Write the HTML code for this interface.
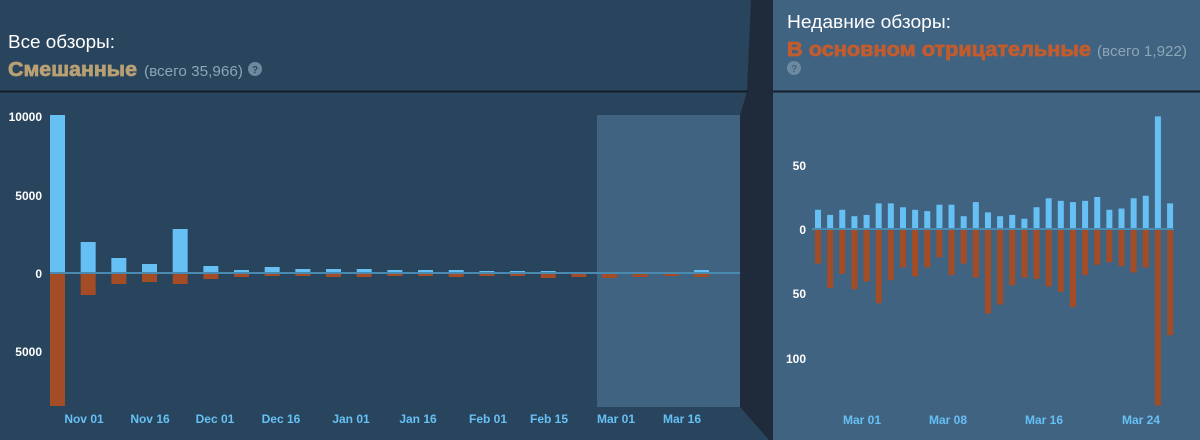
<!DOCTYPE html>
<html><head><meta charset="utf-8"><style>
html,body{margin:0;padding:0;width:1200px;height:440px;overflow:hidden;background:#2a475e;}
svg{display:block}
text{font-family:"Liberation Sans",Arial,sans-serif}
</style></head><body>
<svg id="s" width="1200" height="440" xmlns="http://www.w3.org/2000/svg">
<rect x="0" y="0" width="1200" height="440" fill="#28455d"/>
<rect x="773" y="0" width="427" height="440" fill="#416382"/>
<rect x="597" y="115" width="143" height="292" fill="#3f6380"/>
<polygon points="751,0 773,0 773,440 769,440 740,407 740,115 747,92" fill="#1f2b3b"/>
<line x1="0" y1="91.5" x2="748" y2="91.5" stroke="#141e2a" stroke-width="2"/>
<line x1="773" y1="91.5" x2="1200" y2="91.5" stroke="#141e2a" stroke-width="2"/>
<text x="8" y="48" font-size="18.5" fill="#ffffff" textLength="107" lengthAdjust="spacingAndGlyphs">Все обзоры:</text>
<text x="8" y="76" font-size="20" font-weight="bold" fill="#b9a074" stroke="#b9a074" stroke-width="0.7" textLength="129" lengthAdjust="spacingAndGlyphs">Смешанные</text>
<text x="144" y="76" font-size="15" fill="#8ba6b6" textLength="99" lengthAdjust="spacingAndGlyphs">(всего 35,966)</text>
<circle cx="255" cy="69" r="7" fill="#6b8aa0"/><text x="255" y="73" font-size="10" font-weight="bold" fill="#2a475e" text-anchor="middle">?</text>
<text x="787" y="28" font-size="18.5" fill="#ffffff" textLength="164" lengthAdjust="spacingAndGlyphs">Недавние обзоры:</text>
<text x="787" y="56" font-size="20" font-weight="bold" fill="#c35c2c" stroke="#c35c2c" stroke-width="0.7" textLength="304" lengthAdjust="spacingAndGlyphs">В основном отрицательные</text>
<text x="1097" y="56" font-size="15" fill="#8ba6b6" textLength="90" lengthAdjust="spacingAndGlyphs">(всего 1,922)</text>
<circle cx="794" cy="68" r="7" fill="#6b8aa0"/><text x="794" y="72" font-size="10" font-weight="bold" fill="#416382" text-anchor="middle">?</text>
<g font-size="12" font-weight="bold" fill="#ffffff" text-anchor="end">
<text x="42" y="121">10000</text><text x="42" y="200">5000</text><text x="42" y="278">0</text><text x="42" y="356">5000</text>
<text x="806" y="170">50</text><text x="806" y="234">0</text><text x="806" y="298">50</text><text x="806" y="363">100</text>
</g>
<g font-size="12" font-weight="bold" fill="#66c0f4" text-anchor="middle" id="xl"></g>
<g id="bars"></g>
</svg>
<script>
var ns="http://www.w3.org/2000/svg",b=document.getElementById('bars'),xl=document.getElementById('xl');
function r(x,y,w,h,c){var e=document.createElementNS(ns,'rect');e.setAttribute('x',x);e.setAttribute('y',y);e.setAttribute('width',w);e.setAttribute('height',Math.max(h,0));e.setAttribute('fill',c);b.appendChild(e);}
function t(x,y,s){var e=document.createElementNS(ns,'text');e.setAttribute('x',x);e.setAttribute('y',y);e.textContent=s;xl.appendChild(e);}
var lp=[158,31,15,9,44,7,3,6,4,4,4,3,3,3,2,2,2,1,1,1,1,3];
var ln=[133,22,11,9,11,6,4,3,3,4,4,3,3,4,3,3,5,4,5,4,3,4];
for(var i=0;i<22;i++){var x=50+i*30.67;r(x,273-lp[i],15,lp[i],'#66c0f4');r(x,273,15,ln[i],'#a34c25');}
r(725,273,15,1,'#a34c25');
r(50,272,690,2,'#4a8ab0');
var rp=[15,11,15,10,11,20,20,17,15,14,19,19,10,21,13,10,11,8,17,24,22,21,22,25,15,16,24,26,88,20];
var rn=[27,46,35,47,41,58,40,30,37,30,22,36,27,38,66,59,44,38,39,45,49,61,36,28,26,29,34,30,138,83];
for(var j=0;j<30;j++){var x2=815+j*12.14;r(x2,229-rp[j]*1.28,6,rp[j]*1.28,'#66c0f4');r(x2,229,6,rn[j]*1.28,'#a34c25');}
r(812,228,362,2,'#4a8ab0');
[['Nov 01',84],['Nov 16',150],['Dec 01',215],['Dec 16',281],['Jan 01',351],['Jan 16',418],['Feb 01',488],['Feb 15',549],['Mar 01',616],['Mar 16',682]].forEach(function(a){t(a[1],423,a[0]);});
[['Mar 01',862],['Mar 08',948],['Mar 16',1044],['Mar 24',1141]].forEach(function(a){t(a[1],424,a[0]);});
</script>
</body></html>
